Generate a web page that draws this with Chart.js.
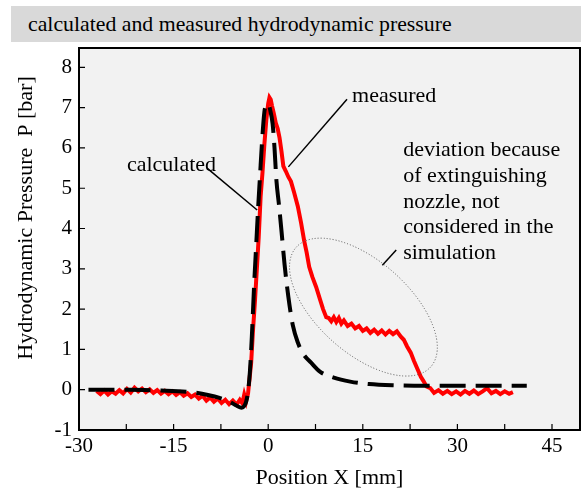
<!DOCTYPE html>
<html>
<head>
<meta charset="utf-8">
<script src="https://cdn.jsdelivr.net/npm/chart.js@4.4.1/dist/chart.umd.min.js"></script>
<style>
  body{ margin:0; background:#fff; width:581px; height:493px; overflow:hidden; position:relative; }
  #titleBar{ position:absolute; left:11px; top:6px; width:553px; height:36px; padding-left:17px;
    background:#d9d9d9; font:21.8px "Liberation Serif", serif; line-height:36px; color:#000; white-space:nowrap; }
  #wrap{ position:absolute; left:0; top:0; width:581px; height:493px; }
</style>
</head>
<body>
<div id="wrap"><canvas id="chart" width="581" height="493"></canvas></div>
<div id="titleBar">calculated and measured hydrodynamic pressure</div>
<script>
// axis ticks
const xTicks = [-30,-22.5,-15,-7.5,0,7.5,15,22.5,30,37.5,45];
const yTicks = [-1,0,1,2,3,4,5,6,7,8];

// calculated pressure (black dashed)
const calcX = [-28.5,-22,-17,-13,-10.5,-8.5,-7,-6,-5.2,-4.6,-4.2,-3.8,-3.5,-3.2,-2.9,-2.6,-2.2,-1.9,-1.6,-1.3,-1.0,-0.6,-0.3,0,0.3,0.7,1.0,1.3,1.7,2.1,2.6,3.2,3.9,4.7,5.6,6.8,8.2,10.4,13,16,20,25,30,35,41];
const calcP = [0,0,-0.02,-0.05,-0.1,-0.17,-0.24,-0.31,-0.38,-0.43,-0.45,-0.4,-0.3,-0.05,0.45,1.3,2.7,3.6,4.5,5.3,6.1,6.9,7.05,7.1,6.95,6.6,6.0,5.2,4.6,3.95,3.1,2.3,1.6,1.17,0.88,0.67,0.45,0.3,0.2,0.14,0.11,0.1,0.1,0.1,0.1];

// measured pressure (red, noisy)
const measX = [-27.2,-26.6,-26.0,-25.4,-24.8,-24.2,-23.6,-23.0,-22.4,-21.8,-21.2,-20.6,-20.0,-19.4,-18.8,-18.2,-17.6,-17.0,-16.4,-15.8,-15.2,-14.6,-14.0,-13.4,-12.8,-12.2,-11.6,-11.0,-10.4,-9.8,-9.2,-8.6,-8.0,-7.4,-6.8,-6.2,-5.6,-5.0,-4.5,-4.1,-3.8,-3.5,-3.2,-2.7,-2.4,-2.1,-1.8,-1.5,-1.2,-0.9,-0.6,-0.3,0.0,0.2,0.4,0.6,0.9,1.2,1.5,1.8,2.1,2.4,2.8,3.2,3.6,4.1,4.7,5.2,5.7,6.1,6.5,7.0,7.6,8.2,8.7,9.2,9.6,10.0,10.4,10.8,11.2,11.6,12.0,12.6,13.2,13.8,14.4,15.0,15.6,16.2,16.8,17.4,18.0,18.6,19.2,19.8,20.4,21.0,21.5,22.0,22.6,23.1,23.7,24.2,24.6,25.1,25.7,26.3,27.0,27.7,28.4,29.1,29.8,30.5,31.2,31.9,32.6,33.3,34.0,34.7,35.4,36.1,36.8,37.5,38.2,38.8];
const measP = [-0.03,-0.11,-0.02,-0.12,-0.04,-0.10,-0.01,-0.09,0.02,-0.07,0.05,-0.04,0.03,-0.06,0.01,-0.08,-0.01,-0.10,-0.03,-0.11,-0.04,-0.13,-0.06,-0.15,-0.09,-0.18,-0.12,-0.22,-0.15,-0.27,-0.19,-0.30,-0.22,-0.33,-0.25,-0.36,-0.27,-0.37,-0.25,-0.34,-0.12,-0.29,-0.10,0.67,1.5,2.2,3.0,3.8,4.8,5.4,6.1,6.7,7.1,7.25,7.2,7.05,6.85,6.62,6.48,6.25,5.92,5.55,5.42,5.28,5.17,4.9,4.55,4.15,3.7,3.4,3.05,2.8,2.55,2.25,2.0,1.80,1.78,1.70,1.80,1.68,1.78,1.64,1.72,1.58,1.64,1.52,1.58,1.46,1.52,1.41,1.49,1.39,1.47,1.37,1.46,1.38,1.45,1.32,1.24,1.08,0.92,0.72,0.50,0.32,0.22,0.08,0.04,-0.08,-0.01,-0.10,-0.03,-0.11,-0.04,-0.12,-0.03,-0.10,-0.02,-0.11,-0.04,0.04,-0.09,-0.03,-0.11,-0.04,-0.10,-0.06];

const FONT = '"Liberation Serif", "Times New Roman", serif';

// frame, inner ticks, axis titles and annotations
const decor = {
  id:'decor',
  beforeDraw(chart){
    const {ctx, chartArea:a} = chart;
    ctx.save();
    ctx.fillStyle = '#f2f2f2';
    ctx.fillRect(a.left, a.top, a.right-a.left, a.bottom-a.top);
    ctx.restore();
  },
  afterDraw(chart){
    const {ctx, chartArea:a, scales:{x, y}} = chart;
    ctx.save();
    ctx.strokeStyle = '#000';
    ctx.lineWidth = 2;
    ctx.strokeRect(a.left, a.top, a.right-a.left, a.bottom-a.top);
    ctx.lineWidth = 1.2;
    ctx.beginPath();
    xTicks.forEach(v=>{ const px = x.getPixelForValue(v); ctx.moveTo(px, a.bottom); ctx.lineTo(px, a.bottom-6); });
    yTicks.forEach(v=>{ const py = y.getPixelForValue(v); ctx.moveTo(a.left, py); ctx.lineTo(a.left+6, py); });
    ctx.stroke();

    // axis titles
    ctx.fillStyle = '#000';
    ctx.font = '22px ' + FONT;
    ctx.textAlign = 'center';
    ctx.textBaseline = 'middle';
    ctx.fillText('Position X [mm]', (a.left+a.right)/2, 478);
    ctx.save();
    ctx.translate(26, 218);
    ctx.rotate(-Math.PI/2);
    ctx.fillText('Hydrodynamic Pressure  P [bar]', 0, 0);
    ctx.restore();

    // annotations
    const P = (vx, vy) => [x.getPixelForValue(vx), y.getPixelForValue(vy)];
    ctx.textAlign = 'left';
    let p = P(-22.4, 5.58); ctx.fillText('calculated', p[0], p[1]);
    p = P(13.3, 7.29); ctx.fillText('measured', p[0], p[1]);
    const dev = ['deviation because','of extinguishing','nozzle, not','considered in the','simulation'];
    const devP = [5.95, 5.3, 4.66, 4.02, 3.38];
    dev.forEach((t,i)=>{ const q = P(21.4, devP[i]); ctx.fillText(t, q[0], q[1]); });

    ctx.lineWidth = 1.5;
    const leader = (x1,y1,x2,y2)=>{ const s = P(x1,y1), e = P(x2,y2); ctx.beginPath(); ctx.moveTo(s[0],s[1]); ctx.lineTo(e[0],e[1]); ctx.stroke(); };
    leader(-9.7, 5.5, -1.75, 4.46);
    leader(12.5, 7.21, 3.2, 5.53);
    leader(18.1, 3.09, 20.3, 3.47);

    // dotted ellipse round the deviation
    const c = P(15.1, 2.05);
    ctx.strokeStyle = '#555';
    ctx.lineWidth = 1;
    ctx.setLineDash([1,2]);
    ctx.beginPath();
    ctx.ellipse(c[0], c[1], 90, 46, 41.6*Math.PI/180, 0, Math.PI*2);
    ctx.stroke();
    ctx.restore();
  }
};

const zip = (xs, ys) => xs.map((v,i)=>({x:v, y:ys[i]}));

new Chart(document.getElementById('chart'), {
  type:'line',
  data:{
    datasets:[
      { label:'calculated', data:zip(calcX, calcP), borderColor:'#000', borderWidth:4,
        borderDash:[26,10], pointRadius:0, cubicInterpolationMode:'monotone', order:0 },
      { label:'measured', data:zip(measX, measP), borderColor:'#ff0000', borderWidth:4,
        pointRadius:0, tension:0, order:1 }
    ]
  },
  options:{
    responsive:false,
    animation:false,
    layout:{ padding:{ top:48, right:1, left:0, bottom:0 } },
    plugins:{ legend:{ display:false }, tooltip:{ enabled:false }, title:{ display:false } },
    scales:{
      x:{
        type:'linear', min:-30, max:49.44,
        afterBuildTicks: s => { s.ticks = xTicks.map(v=>({value:v})); },
        afterFit: s => { s.height = 63; },
        grid:{ display:false, drawTicks:false },
        border:{ display:false },
        ticks:{ color:'#000', font:{ family:FONT, size:21 }, padding:4, maxRotation:0, autoSkip:false,
          callback: v => (v % 15 === 0 ? String(v) : '') }
      },
      y:{
        type:'linear', min:-1, max:8.48,
        afterBuildTicks: s => { s.ticks = yTicks.map(v=>({value:v})); },
        afterFit: s => { s.width = 79; },
        grid:{ display:false, drawTicks:false },
        border:{ display:false },
        ticks:{ color:'#000', font:{ family:FONT, size:21 }, padding:7, autoSkip:false }
      }
    }
  },
  plugins:[decor]
});
</script>
</body>
</html>
